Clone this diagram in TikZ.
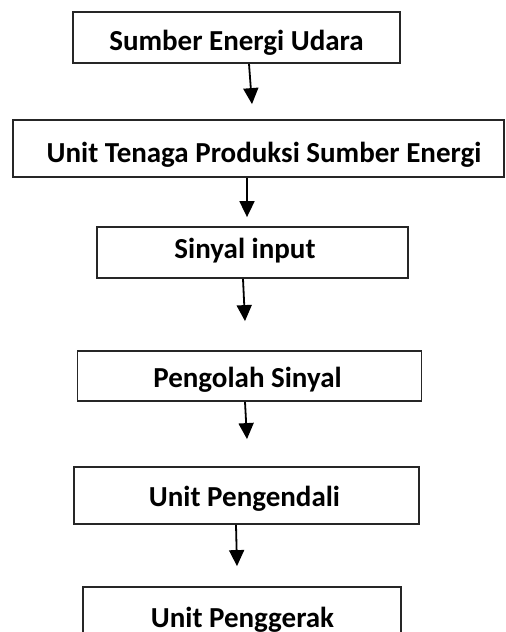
\documentclass[tikz,border=0pt]{standalone}
\usepackage{fontspec}
\setmainfont{Carlito}
\usetikzlibrary{arrows.meta}
\begin{document}
\begin{tikzpicture}[x=1pt,y=1pt,
  box/.style={draw=black!85,line width=1.8pt,rectangle,inner sep=0pt},
  lbl/.style={anchor=base,inner sep=0pt,font=\fontsize{29}{33}\selectfont\bfseries},
  arr/.style={line width=1.8pt,-{Triangle[length=16pt,width=15pt]}}]
\useasboundingbox (0,0) rectangle (506,-632);
\clip (0,0) rectangle (506,-632);
\fill[white] (0,0) rectangle (506,-632);
% boxes
\node[box,minimum width=327pt,minimum height=51pt] (b1) at (236.5,-37.5) {};
\node[box,minimum width=491pt,minimum height=57pt] (b2) at (258.5,-148.5) {};
\node[box,minimum width=311pt,minimum height=51pt] (b3) at (252.5,-252.5) {};
\node[box,minimum width=344pt,minimum height=50pt] (b4) at (249.5,-376) {};
\node[box,minimum width=345pt,minimum height=57pt] (b5) at (246.5,-495.5) {};
\node[box,minimum width=318pt,minimum height=70pt] (b6) at (242,-622) {};
% labels
\node[lbl] (t1) at (236.5,-50) {Sumber Energi Udara};
\node[lbl] (t2) at (264,-162) {Unit Tenaga Produksi Sumber Energi};
\node[lbl] (t3) at (245,-258) {Sinyal input};
\node[lbl] (t4) at (247.5,-387) {Pengolah Sinyal};
\node[lbl] (t5) at (244.5,-506) {Unit Pengendali};
\node[lbl] (t6) at (242.5,-627) {Unit Penggerak};
% arrows
\draw[arr] ([xshift=12.5pt]b1.south) -- ([xshift=-6.5pt,yshift=15pt]b2.north);
\draw[arr] ([xshift=-11.5pt]b2.south) -- ([xshift=-5.5pt,yshift=9pt]b3.north);
\draw[arr] ([xshift=-9.5pt]b3.south) -- ([xshift=-4.5pt,yshift=29pt]b4.north);
\draw[arr] ([xshift=-4.5pt]b4.south) -- ([xshift=0.5pt,yshift=27pt]b5.north);
\draw[arr] ([xshift=-10.5pt]b5.south) -- ([xshift=-5pt,yshift=20pt]b6.north);
\end{tikzpicture}
\end{document}
